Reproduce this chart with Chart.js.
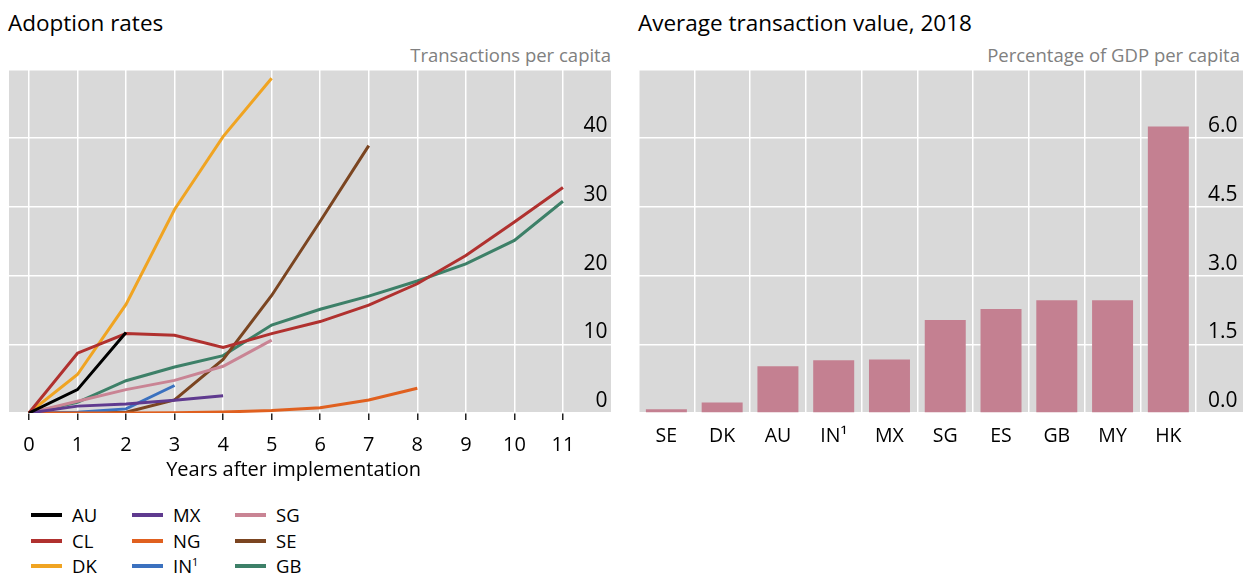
<!DOCTYPE html>
<html>
<head>
<meta charset="utf-8">
<script src="https://cdn.jsdelivr.net/npm/chart.js@4.4.0/dist/chart.umd.min.js"></script>
<style>
body{margin:0;width:1243px;height:576px;overflow:hidden;background:#fff;position:relative;font-family:'Open Sans',sans-serif;color:#000}
.title{position:absolute;top:8px;font-size:22.5px;line-height:30px;white-space:nowrap}
.sub{position:absolute;top:44px;font-size:18.5px;line-height:22px;color:#808080;text-align:right;white-space:nowrap}
.box{position:absolute;top:60px;height:430px}
#legend{position:absolute;left:0;top:500px}
.item{position:absolute;font-size:18.5px;line-height:24px;white-space:nowrap}
.item i{position:absolute;left:0;top:10px;width:31px;height:4px}
.item span{position:absolute;left:41px;top:0}
sup{font-size:11px;line-height:0}
</style>
</head>
<body>
<div class="title" style="left:8px">Adoption rates</div>
<div class="sub" style="right:632px">Transactions per capita</div>
<div class="title" style="left:638px">Average transaction value, 2018</div>
<div class="sub" style="right:3px">Percentage of GDP per capita</div>
<div class="box" style="left:0;width:620px"><canvas id="adoption"></canvas></div>
<div class="box" style="left:630px;width:625px"><canvas id="value"></canvas></div>
<div id="legend"></div>
<script>
// adopcion: transacciones per capita por anio despues de implementacion
const years = [0,1,2,3,4,5,6,7,8,9,10,11]
const AU = [0,3.4,11.7]
const CL = [0,8.7,11.55,11.3,9.55,11.55,13.3,15.7,18.8,22.9,27.8,32.8]
const DK = [0,5.6,15.8,29.6,40.2,48.7]
const MX = [0,1.0,1.3,1.85,2.5]
const NG = [0,0,0,0.05,0.15,0.35,0.75,1.9,3.6]
const IN = [0,0.1,0.6,4.0]
const SG = [0,1.7,3.4,4.75,6.8,10.6]
const SE = [0,0,0.1,1.9,7.8,17.1,27.9,38.9]
const GB = [0,1.55,4.7,6.7,8.35,12.8,15.1,17.0,19.2,21.7,25.1,30.8]
const line_names = ['AU','CL','DK','MX','NG','IN','SG','SE','GB']
const line_values = [AU,CL,DK,MX,NG,IN,SG,SE,GB]
const line_colors = ['#000000','#b0312f','#f0a422','#5f3a8f','#e0601f','#3b71bf','#c98494','#7b4521','#3d8068']
const y_ticks_left = [0,10,20,30,40]

// valor promedio por transaccion, % del PIB per capita
const countries = ['SE','DK','AU','IN¹','MX','SG','ES','GB','MY','HK']
const avg_value = [0.08,0.23,1.02,1.15,1.17,2.03,2.27,2.46,2.46,6.25]
const y_ticks_right = [0,1.5,3,4.5,6]

const fontFam = "'Open Sans', sans-serif"
Chart.defaults.font.family = fontFam
Chart.defaults.color = '#000'

//fondo gris del area de grafica
const bg = {
    id:'bg',
    beforeDraw(chart){
        const {ctx, chartArea:a} = chart
        ctx.save()
        ctx.fillStyle = '#d9d9d9'
        ctx.fillRect(a.left, a.top, a.right - a.left, a.bottom - a.top)
        ctx.restore()
    }
}

//quitar el relleno automatico de las escalas para fijar el area a mano
const fitX = s=>{ s.height = 77; s.paddingLeft = 0; s.paddingRight = 0 }
const fitY = s=>{ s.width = 0; s.paddingTop = 0; s.paddingBottom = 0 }

let lineSets = line_names.map((n,k)=>({
    label:n,
    data:line_values[k].map((v,i)=>({x:years[i], y:v})),
    borderColor:line_colors[k],
    backgroundColor:line_colors[k],
    borderWidth:3,
    pointRadius:0,
    tension:0,
    fill:false
}))

new Chart(document.getElementById('adoption'),{
    type:'line',
    data:{datasets:lineSets},
    plugins:[bg],
    options:{
        responsive:true,
        maintainAspectRatio:false,
        animation:false,
        layout:{padding:{left:9,right:8.5,top:9.3,bottom:0}},
        plugins:{legend:{display:false},tooltip:{enabled:false}},
        scales:{
            x:{
                type:'linear', min:-0.41, max:12,
                afterFit:fitX,
                border:{display:false},
                grid:{color:'#fff', lineWidth:1.5, tickLength:7,
                    tickColor:c=> c.tick && c.tick.value <= 11 ? '#222' : 'rgba(0,0,0,0)'},
                ticks:{stepSize:1, includeBounds:false, autoSkip:false, maxRotation:0, padding:13,
                    font:{size:20}, callback:v=> v>=0 && v<=11 ? v : ''},
                // espacios al final para correr el titulo a la izquierda como en el original
                title:{display:true, text:'Years after implementation\u2002\u2002\u2002\u2009', font:{size:20},
                    padding:{top:0,bottom:8}}
            },
            y:{
                position:'right', min:0, max:50,
                afterFit:fitY,
                afterBuildTicks:s=>{s.ticks = y_ticks_left.concat([50]).map(v=>({value:v}))},
                border:{display:false},
                grid:{color:'#fff', lineWidth:1.5, drawTicks:false},
                ticks:{mirror:true, padding:-4, labelOffset:-12, font:{size:21},
                    callback:v=> y_ticks_left.includes(v) ? v : ''}
            }
        }
    }
})

new Chart(document.getElementById('value'),{
    type:'bar',
    data:{
        labels:countries.concat(['']),
        datasets:[{data:avg_value, backgroundColor:'#c48091', barPercentage:0.735, categoryPercentage:1}]
    },
    plugins:[bg],
    options:{
        responsive:true,
        maintainAspectRatio:false,
        animation:false,
        layout:{padding:{left:8.5,right:3,top:9.3,bottom:0}},
        plugins:{legend:{display:false},tooltip:{enabled:false}},
        scales:{
            x:{
                offset:true,
                afterFit:fitX,
                border:{display:false},
                grid:{color:'#fff', lineWidth:1.5, offset:true, drawTicks:false},
                ticks:{autoSkip:false, maxRotation:0, padding:12, font:{size:19.5}}
            },
            y:{
                position:'right', min:0, max:7.5,
                afterFit:fitY,
                afterBuildTicks:s=>{s.ticks = y_ticks_right.concat([7.5]).map(v=>({value:v}))},
                border:{display:false},
                grid:{color:'#fff', lineWidth:1.5, drawTicks:false},
                ticks:{mirror:true, padding:-14.5, labelOffset:-12, font:{size:21},
                    callback:v=> y_ticks_right.includes(v) ? v.toFixed(1) : ''}
            }
        }
    }
})

//leyenda en columnas
const legend = document.getElementById('legend')
const colX = [31,132,235]
const rowY = [3,29,54]
line_names.forEach((n,k)=>{
    const d = document.createElement('div')
    d.className = 'item'
    d.style.left = colX[Math.floor(k/3)] + 'px'
    d.style.top = rowY[k%3] + 'px'
    const sw = document.createElement('i')
    sw.style.background = line_colors[k]
    const tx = document.createElement('span')
    tx.innerHTML = n === 'IN' ? 'IN<sup>1</sup>' : n
    d.appendChild(sw)
    d.appendChild(tx)
    legend.appendChild(d)
})
</script>
</body>
</html>
